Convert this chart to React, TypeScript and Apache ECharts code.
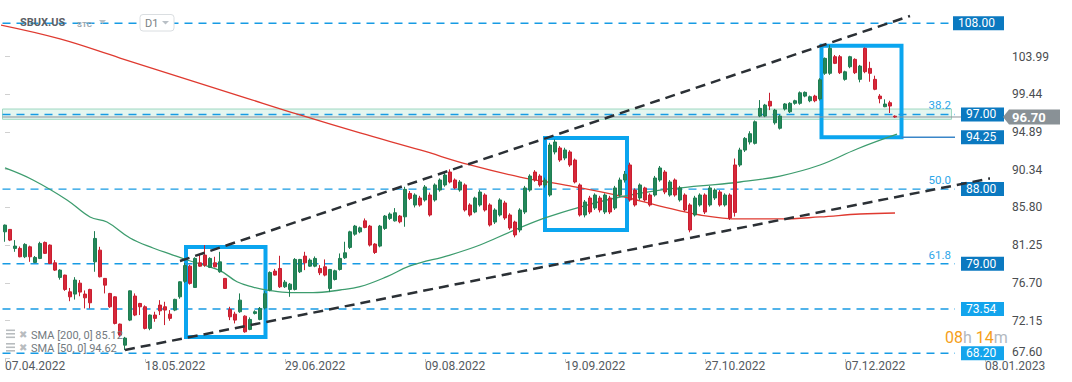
import { useEffect, useRef } from "react";
import * as echarts from "echarts";

const FONT = "Roboto, 'Noto Sans', 'DejaVu Sans', sans-serif";

// ---- data ----
const dateLabels = ["07.04.2022", "18.05.2022", "29.06.2022", "09.08.2022", "19.09.2022", "27.10.2022", "07.12.2022", "08.01.2023"];
const barsPerLabel = 28;
const slotCount = 197;

// [open, close, low, high]
const candles: number[][] = [
  [82.85, 83.66, 81.65, 83.73], [83.14, 81.85, 81.73, 83.18], [80.85, 81.13, 80.44, 81.85], [80.85, 79.84, 79.78, 81.08],
  [79.84, 81.33, 79.68, 81.48], [81.04, 79.84, 79.23, 81.18], [79.16, 79.76, 79.08, 79.93], [79.64, 81.45, 79.56, 81.65],
  [81.57, 80.25, 80.18, 81.68], [81.25, 79.04, 78.96, 81.33], [79.11, 78.23, 78.13, 79.44], [77.35, 78.23, 77.08, 78.33],
  [77.63, 75.9, 75.73, 77.68], [75.61, 75.01, 74.48, 76.08], [75.34, 77.03, 74.68, 77.38], [76.66, 75.58, 75.08, 77.03],
  [75.34, 74.89, 73.61, 75.78], [75.9, 74.29, 73.61, 75.98], [79.23, 82.05, 78.03, 82.93], [80.64, 77.43, 77.35, 81.04],
  [77.23, 76.42, 75.42, 77.28], [75.42, 73.81, 73.68, 75.48], [75.01, 71.8, 71.68, 75.08], [71.72, 70.39, 70.18, 71.78],
  [69.18, 70.03, 68.58, 70.18], [72.2, 75.73, 72.08, 75.78], [75.1, 72.81, 72.68, 75.42], [74.21, 73.81, 72.81, 74.28],
  [73.81, 71.2, 71.08, 73.98], [71.2, 72.81, 70.98, 72.88], [72.81, 72.41, 72.0, 73.21], [74.01, 73.32, 72.81, 74.61],
  [73.81, 73.41, 71.6, 74.41], [72.92, 72.41, 72.12, 73.41], [73.41, 74.7, 73.28, 74.78], [75.01, 76.82, 74.78, 76.88],
  [76.88, 78.78, 76.68, 79.08], [78.71, 76.63, 76.48, 78.88], [76.14, 79.64, 76.08, 79.78], [79.11, 78.71, 78.63, 80.04],
  [80.04, 78.83, 78.63, 81.25], [78.56, 79.64, 78.48, 79.78], [79.11, 78.63, 78.56, 79.84], [78.03, 79.23, 77.91, 80.44],
  [77.23, 76.02, 75.98, 77.28], [73.49, 72.6, 72.2, 73.81], [72.92, 72.2, 71.8, 73.21], [73.21, 74.61, 73.08, 75.42],
  [72.68, 70.79, 70.68, 72.78], [71.08, 72.28, 70.98, 72.53], [73.01, 73.21, 72.88, 73.38], [72.28, 73.61, 72.18, 73.78],
  [73.68, 75.38, 73.48, 75.68], [75.82, 77.95, 75.68, 78.08], [78.11, 77.63, 77.58, 78.38], [78.43, 76.22, 76.08, 79.96],
  [76.22, 76.78, 76.08, 77.03], [75.9, 76.54, 75.01, 76.68], [75.9, 79.52, 75.78, 79.68], [78.03, 79.52, 77.88, 79.58],
  [79.92, 79.11, 78.23, 80.44], [78.71, 79.44, 78.63, 79.64], [78.71, 79.64, 78.58, 79.88], [78.43, 77.91, 77.63, 78.83],
  [78.63, 77.63, 77.48, 79.52], [76.02, 78.31, 75.58, 78.38], [77.1, 78.15, 76.98, 78.28], [78.31, 79.64, 78.18, 80.24],
  [79.72, 80.32, 79.58, 81.65], [80.97, 82.85, 80.78, 82.98], [82.57, 83.54, 82.38, 83.68], [82.85, 83.33, 82.68, 83.48],
  [84.17, 83.38, 83.28, 84.46], [83.54, 81.25, 81.08, 83.68], [81.37, 80.36, 80.18, 81.48], [81.13, 83.54, 80.98, 83.68],
  [83.26, 84.75, 83.08, 84.88], [84.47, 84.99, 84.28, 85.18], [84.17, 85.15, 84.08, 85.71], [84.75, 84.06, 83.88, 84.88],
  [84.66, 87.97, 83.46, 88.28], [87.48, 86.88, 86.68, 87.78], [86.08, 87.29, 85.79, 87.49], [86.93, 86.08, 85.89, 87.19],
  [86.69, 88.26, 86.49, 88.49], [87.29, 84.88, 84.69, 87.59], [86.69, 88.5, 86.49, 88.69], [87.89, 89.1, 87.69, 89.29],
  [88.5, 89.7, 88.29, 89.99], [90.06, 88.86, 88.69, 90.39], [89.1, 88.14, 87.99, 89.29], [87.89, 88.86, 87.69, 89.09],
  [88.5, 85.48, 85.29, 88.69], [86.09, 84.88, 84.69, 86.29], [85.24, 86.93, 85.09, 87.09], [86.09, 87.65, 85.89, 87.89],
  [87.29, 85.48, 85.29, 87.49], [86.09, 83.67, 83.49, 86.29], [84.03, 85.48, 83.79, 85.69], [84.88, 86.69, 84.69, 86.89],
  [86.33, 84.52, 84.29, 86.59], [84.88, 83.31, 83.09, 85.09], [84.03, 82.47, 82.19, 84.19], [83.07, 85.48, 82.79, 85.69],
  [85.24, 88.14, 84.99, 88.39], [87.89, 89.58, 87.69, 89.79], [90.06, 89.1, 88.89, 90.29], [89.58, 88.5, 88.29, 89.79],
  [88.5, 89.09, 88.19, 89.39], [87.29, 93.32, 87.09, 93.59], [92.48, 93.68, 92.19, 93.99], [92.96, 91.51, 91.29, 93.19],
  [91.75, 92.72, 91.49, 92.99], [92.48, 90.91, 90.69, 92.69], [91.51, 88.86, 88.69, 91.69], [88.5, 84.88, 84.69, 88.69],
  [84.88, 86.45, 84.59, 86.69], [86.93, 85.24, 84.99, 87.19], [85.72, 87.29, 85.49, 87.49], [86.93, 85.48, 85.19, 87.19],
  [85.24, 87.29, 84.99, 87.49], [86.93, 85.24, 84.99, 87.19], [85.72, 88.14, 85.49, 88.39], [87.29, 89.1, 87.09, 89.39],
  [89.1, 89.79, 88.79, 90.19], [90.91, 86.69, 86.49, 91.19], [87.89, 86.09, 85.89, 88.09], [86.93, 88.5, 86.69, 88.69],
  [88.14, 86.69, 86.49, 88.29], [87.29, 86.09, 85.89, 87.49], [87.29, 89.34, 87.09, 89.59], [89.1, 90.55, 88.89, 90.79],
  [90.06, 87.65, 87.39, 90.29], [87.29, 88.86, 87.09, 89.09], [89.1, 87.29, 87.09, 89.29], [86.69, 88.14, 86.49, 88.39],
  [87.29, 85.48, 85.29, 87.49], [86.09, 83.07, 82.79, 86.29], [84.88, 86.93, 84.69, 87.19], [86.09, 87.29, 85.89, 87.49],
  [87.29, 85.24, 84.99, 87.49], [86.09, 88.14, 85.89, 88.39], [86.93, 87.89, 86.69, 88.09], [87.65, 86.09, 85.89, 87.89],
  [86.09, 87.29, 85.89, 87.49], [87.29, 84.52, 84.29, 87.49], [90.91, 85.19, 84.69, 91.69], [90.91, 92.72, 90.69, 92.99],
  [92.71, 94.12, 92.48, 94.28], [93.68, 94.68, 93.38, 94.98], [93.52, 96.12, 93.38, 96.28], [96.81, 97.74, 96.68, 98.74],
  [96.81, 98.14, 96.68, 98.28], [98.59, 98.02, 97.53, 99.62], [96.0, 97.53, 95.78, 97.68], [95.34, 96.81, 95.18, 96.98],
  [97.66, 98.27, 97.48, 98.38], [97.33, 98.35, 97.18, 98.48], [98.35, 98.66, 98.18, 98.78], [98.35, 99.62, 98.18, 99.78],
  [99.22, 99.67, 99.08, 99.78], [98.66, 99.14, 98.48, 99.28], [99.22, 98.66, 98.48, 99.38], [98.88, 101.18, 98.68, 101.38],
  [101.97, 103.77, 101.78, 103.88], [101.97, 104.98, 101.78, 105.38], [103.97, 103.17, 103.08, 104.18], [103.97, 102.04, 101.88, 104.18],
  [101.24, 102.15, 101.08, 102.28], [102.76, 103.97, 102.58, 104.08], [103.65, 102.04, 101.88, 103.78], [101.24, 102.84, 100.88, 102.98],
  [104.98, 102.16, 101.98, 105.08], [102.56, 101.97, 100.95, 103.36], [101.24, 100.04, 99.93, 101.68], [99.22, 98.9, 98.35, 99.46],
  [97.94, 98.26, 97.88, 98.83], [98.42, 98.02, 97.18, 98.66], [96.8, 96.7, 96.6, 96.9],
];

// moving averages: [bar index, value]
const sma200Points = [
  [-1, 107.8], [11, 106.11], [23, 103.81], [35, 101.52], [47, 99.23], [59, 96.94], [71, 94.77], [83, 92.72],
  [93, 90.91], [103, 89.46], [113, 88.38], [123, 87.17], [131, 85.96], [139, 84.88], [147, 84.4], [155, 84.4],
  [163, 84.64], [171, 85.0], [178, 85.12],
];
const sma50Points = [
  [0, 90.55], [5.6, 89.1], [12.4, 86.69], [17, 84.64], [20.4, 84.03], [25, 82.1], [29.6, 80.9], [33.6, 80.05],
  [36.4, 79.45], [43, 78.16], [46.4, 76.83], [49.6, 76.19], [52.4, 75.83], [57, 75.51], [61.6, 75.51], [67, 75.83],
  [71, 76.23], [76.4, 77.44], [81, 78.73], [89, 80.05], [95, 81.26], [101, 82.83], [108, 84.52], [115, 85.84],
  [123, 87.05], [131, 87.89], [139, 88.38], [147, 88.86], [155, 89.58], [163, 90.91], [170.4, 92.84], [178.4, 94.62],
];
const sma200Last = 85.12;
const sma50Last = 94.62;

const trendUpper = [[35, 79.33], [181, 108.88]];
const trendLower = [[24, 68.6], [198.4, 89.46]];

// highlight boxes: [fromBar, topValue, toBar, bottomValue]
const highlightBoxes = [
  [36.2, 81.02, 52.1, 70.16],
  [108, 94.17, 124.4, 83.07],
  [163.3, 105.29, 179.3, 94.25],
];

const zone = [96.42, 97.66];
const yTicks = [67.6, 72.15, 76.7, 81.25, 85.8, 90.34, 94.89, 99.44, 103.99];
const levelValues = [108.0, 97.0, 88.0, 79.0, 73.54, 68.2];
const levelFib = ["", "38.2", "50.0", "61.8", "", ""];
const levelDark = [true, true, true, true, false, false];
const boxLevel = 94.25;
const currentPrice = 96.7;
const countdown = ["08", "14"];
const ticker = "SBUX.US";
const period = "D1";

// ---- option ----
const LINE_END = 190;

function priceTag(v: number, dark: boolean, wide: boolean) {
  return {
    show: true,
    distance: wide ? 3 : 6,
    formatter: v.toFixed(2),
    color: "#ffffff",
    backgroundColor: dark ? "#0b79c0" : "#13a4ec",
    padding: [1, 5, 0, 5],
    width: wide ? 41 : 33,
    lineHeight: 13,
    fontSize: 12,
    fontFamily: FONT,
    align: "left",
    verticalAlign: "middle",
  };
}

function hLine(name: string, from: number, to: number, v: number, lineStyle: any, endLabel: any, z: number) {
  return {
    name,
    type: "line",
    xAxisIndex: 1,
    yAxisIndex: 0,
    data: [[from, v], [to, v]],
    symbol: "none",
    silent: true,
    z,
    lineStyle,
    endLabel: endLabel || { show: false },
  };
}

function buildOption() {
  const cats = Array.from({ length: slotCount }, (_, i) =>
    i % barsPerLabel === 0 ? dateLabels[i / barsPerLabel] ?? "" : String(i)
  );
  const showIdx = (idx: number) => idx % barsPerLabel === 0;
  const dashed = { color: "#179be4", width: 1.4, type: [8, 6] };

  const levelSeries = levelValues.map((v, k) => {
    const wide = v >= 100;
    return hLine(`level${k}`, -0.5, wide ? 189 : LINE_END, v, dashed, priceTag(v, levelDark[k], wide), 3);
  });

  const yLabelValues = yTicks.filter((v) => v > 68);

  return {
    animation: false,
    backgroundColor: "#ffffff",
    grid: { left: 2.5, top: 0, width: slotCount * 5, height: 359 },
    xAxis: [
      {
        type: "category",
        data: cats,
        boundaryGap: true,
        axisLine: { show: false },
        axisTick: { show: true, alignWithLabel: true, interval: showIdx, length: 3, lineStyle: { color: "#c4c4c4" } },
        axisLabel: { interval: showIdx, align: "left", color: "#555a5f", fontSize: 12, fontFamily: FONT, margin: 1 },
        splitLine: { show: false },
      },
      { type: "value", min: -0.5, max: slotCount - 0.5, show: false },
    ],
    yAxis: {
      type: "value",
      position: "right",
      min: 67.51,
      max: 110.81,
      offset: 17.5,
      splitLine: { show: false },
      axisLine: { show: false },
      axisTick: { show: true, customValues: yTicks, length: 5, lineStyle: { color: "#d0d0d0" } },
      axisLabel: {
        customValues: yLabelValues,
        formatter: (v: number) => v.toFixed(2),
        color: "#4a4d50",
        fontSize: 12,
        fontFamily: FONT,
        margin: 7,
        padding: [0, 0, 3, 0],
      },
    },
    series: [
      {
        name: "zone",
        type: "line",
        xAxisIndex: 1,
        data: [],
        silent: true,
        z: 1,
        markArea: {
          silent: true,
          itemStyle: { color: "rgba(160,224,202,0.28)", borderColor: "#9fd8c2", borderWidth: 1 },
          data: [[{ coord: [-0.5, zone[1]] }, { coord: [189.3, zone[0]] }]],
        },
      },
      hLine("price", -0.5, 200, currentPrice, { color: "#8b9398", width: 1, type: "solid" }, null, 2),
      ...levelSeries,
      hLine("boxLevel", highlightBoxes[2][2], LINE_END, boxLevel, { color: "#3a86c8", width: 1.4, type: "solid" }, priceTag(boxLevel, true, false), 3),
      {
        name: "SMA200",
        type: "line",
        xAxisIndex: 1,
        data: sma200Points,
        smooth: 0.4,
        symbol: "none",
        silent: true,
        z: 4,
        lineStyle: { color: "#df3a30", width: 1.3 },
      },
      {
        name: "SMA50",
        type: "line",
        xAxisIndex: 1,
        data: sma50Points,
        smooth: 0.4,
        symbol: "none",
        silent: true,
        z: 4,
        lineStyle: { color: "#3d9c6e", width: 1.3 },
      },
      {
        name: "SBUX",
        type: "candlestick",
        xAxisIndex: 0,
        data: candles,
        barWidth: 3,
        silent: true,
        z: 5,
        itemStyle: {
          color: "#23885a",
          color0: "#d8283a",
          borderColor: "#1f7d52",
          borderColor0: "#c81f30",
          borderWidth: 1,
        },
      },
      ...[trendUpper, trendLower].map((pts) => ({
        type: "line",
        xAxisIndex: 1,
        data: pts,
        symbol: "none",
        silent: true,
        clip: false,
        z: 6,
        lineStyle: { color: "#2b3035", width: 2.5, type: [10, 6] },
      })),
      {
        name: "boxes",
        type: "line",
        xAxisIndex: 1,
        data: [],
        silent: true,
        z: 7,
        markArea: {
          silent: true,
          itemStyle: { color: "rgba(0,0,0,0)", borderColor: "#0aa5ef", borderWidth: 4 },
          data: highlightBoxes.map((b) => [{ coord: [b[0], b[1]] }, { coord: [b[2], b[3]] }]),
        },
      },
    ],
  };
}

function buildGraphic(toY: (v: number) => number) {
  const txt = (x: number, y: number, text: string, fill: string, font: string, align = "left") => ({
    type: "text",
    x,
    y,
    silent: true,
    z: 100,
    style: { text, fill, font, align, verticalAlign: "middle", textAlign: align, textVerticalAlign: "middle" },
  });
  const bar = (x: number, y: number) => ({
    type: "rect",
    silent: true,
    z: 100,
    shape: { x, y, width: 9, height: 1.6 },
    style: { fill: "#b8bcbf" },
  });
  const legendRow = (y: number, label: string) => [
    bar(6, y - 4.5),
    bar(6, y - 1),
    bar(6, y + 2.5),
    txt(19, y, "✖", "#b8bcbf", `10px 'DejaVu Sans', sans-serif`),
    txt(31, y + 1, label, "#737a80", `11px ${FONT}`),
  ];
  const py = toY(currentPrice);
  const fibTexts = levelValues
    .map((v, k) => ({ v, f: levelFib[k] }))
    .filter((d) => d.f)
    .map((d) => txt(951, toY(d.v) - 9, d.f, "#2ea6e8", `11.5px ${FONT}`, "right"));
  return [
    txt(20, 22.5, ticker, "#5b6066", `bold 11px ${FONT}`),
    txt(77, 24, "STC", "#9aa5ae", `bold 8px ${FONT}`),
    { type: "polygon", silent: true, z: 100, shape: { points: [[99, 20], [106, 20], [102.5, 24]] }, style: { fill: "#b9c0c6" } },
    { type: "rect", silent: true, z: 100, shape: { x: 140, y: 14.5, width: 34, height: 16.5, r: 3 }, style: { fill: "#ffffff", stroke: "#dadee1", lineWidth: 1 } },
    txt(145, 23, period, "#7a7f84", `11px ${FONT}`),
    { type: "polygon", silent: true, z: 101, shape: { points: [[162, 21], [169, 21], [165.5, 24.5]] }, style: { fill: "#b9c0c6" } },
    ...fibTexts,
    ...legendRow(334, `SMA [200, 0] ${sma200Last.toFixed(2)}`),
    ...legendRow(347.5, `SMA [50, 0] ${sma50Last.toFixed(2)}`),
    {
      type: "text",
      x: 945,
      y: 337,
      silent: true,
      z: 100,
      style: {
        text: `{o|${countdown[0]}}{g|h }{o|${countdown[1]}}{g|m}`,
        align: "left",
        verticalAlign: "middle",
        rich: {
          o: { fill: "#f5a01a", font: `16px ${FONT}` },
          g: { fill: "#b3b9bf", font: `16px ${FONT}` },
        },
      },
    },
    {
      type: "polygon",
      silent: true,
      z: 100,
      shape: { points: [[1003, py], [1009, py - 7.5], [1060, py - 7.5], [1060, py + 7.5], [1009, py + 7.5]] },
      style: { fill: "#899196" },
    },
    txt(1012, py + 0.5, currentPrice.toFixed(2), "#ffffff", `bold 13px ${FONT}`),
    // lowest axis value, lifted above the date row as in the reference
    txt(1012, 352, yTicks[0].toFixed(2), "#4a4d50", `12px ${FONT}`),
  ];
}

export default function App() {
  const ref = useRef<HTMLDivElement>(null);
  useEffect(() => {
    const el = ref.current;
    if (!el) return;
    const chart = echarts.init(el, null, { renderer: "svg" });
    chart.setOption(buildOption() as any);
    const toY = (v: number) => {
      const p = chart.convertToPixel({ yAxisIndex: 0 } as any, v) as unknown;
      return typeof p === "number" ? p : 0;
    };
    chart.setOption({ graphic: buildGraphic(toY) } as any);
    return () => chart.dispose();
  }, []);
  return <div ref={ref} style={{ position: "fixed", left: 0, top: 0, width: 1072, height: 382 }} />;
}
